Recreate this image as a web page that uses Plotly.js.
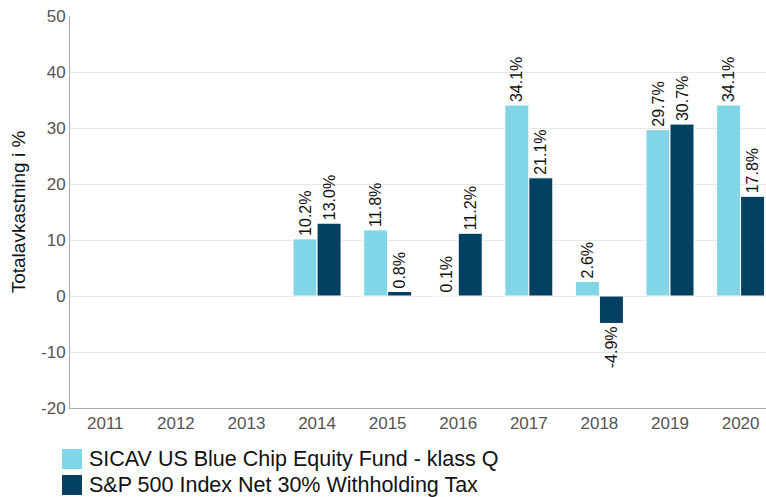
<!DOCTYPE html>
<html>
<head>
<meta charset="utf-8">
<script src="https://cdn.plot.ly/plotly-3.0.1.min.js"></script>
<style>html,body{margin:0;padding:0;overflow:hidden;background:#fff}</style>
</head>
<body>
<div id="chart" style="width:766px;height:497px"></div>
<script>
const years = ["2011","2012","2013","2014","2015","2016","2017","2018","2019","2020"];
const fundName = "SICAV US Blue Chip Equity Fund - klass Q";
const indexName = "S&P 500 Index Net 30% Withholding Tax";
const fundValues = [null,null,null,10.2,11.8,0.1,34.1,2.6,29.7,34.1];
const indexValues = [null,null,null,13.0,0.8,11.2,21.1,-4.9,30.7,17.8];
const yTicks = [-20,-10,0,10,20,30,40,50];
const fundColor = "#80d5e7";
const indexColor = "#004060";

const fmt = v => v === null ? "" : v.toFixed(1) + "%";
const font = "Liberation Sans, Arial, sans-serif";

const traces = [
  {type:"bar", name:fundName, x:years, y:fundValues, text:fundValues.map(fmt),
   textposition:"outside", textangle:-90, cliponaxis:false, constraintext:"none",
   textfont:{size:16, color:"#111", family:font},
   marker:{color:fundColor, line:{color:"#ffffff", width:1}}},
  {type:"bar", name:indexName, x:years, y:indexValues, text:indexValues.map(fmt),
   textposition:"outside", textangle:-90, cliponaxis:false, constraintext:"none",
   textfont:{size:16, color:"#111", family:font},
   marker:{color:indexColor, line:{color:"#ffffff", width:1}}}
];

// manual legend (larger swatches than Plotly's built-in legend)
const legendItems = [{name:fundName, color:fundColor}, {name:indexName, color:indexColor}];
const shapes = legendItems.map((it, i) => ({
  type:"rect", xref:"paper", yref:"paper", xsizemode:"pixel", ysizemode:"pixel",
  xanchor:0, yanchor:0, x0:-8, x1:12, y0:-41 - 26*i, y1:-61 - 26*i,
  fillcolor:it.color, line:{width:0}
}));
const annotations = legendItems.map((it, i) => ({
  text:it.name, xref:"paper", yref:"paper", x:0, y:0, xanchor:"left", yanchor:"middle",
  xshift:17, yshift:-51 - 25.5*i, showarrow:false,
  font:{size:21.5, color:"#111", family:font}
}));

const layout = {
  width:766, height:497,
  margin:{l:70, r:0, t:16, b:89},
  paper_bgcolor:"#fff", plot_bgcolor:"#fff",
  font:{family:font, color:"#111"},
  barmode:"group", bargap:0.32, bargroupgap:0,
  showlegend:false,
  shapes:shapes, annotations:annotations,
  xaxis:{type:"category", range:[-0.5, 9.36], showgrid:false, zeroline:false,
         showline:true, linecolor:"#aaa", linewidth:1, ticks:"",
         tickfont:{size:17, color:"#555", family:font}},
  yaxis:{range:[-20,50], tickvals:yTicks, ticktext:yTicks.map(String),
         showgrid:true, gridcolor:"#e8e8e8", zeroline:false,
         showline:true, linecolor:"#aaa", linewidth:1, ticks:"",
         tickfont:{size:17, color:"#555", family:font},
         title:{text:"Totalavkastning i %", font:{size:19, color:"#111", family:font}, standoff:10}}
};

Plotly.newPlot("chart", traces, layout, {displayModeBar:false, staticPlot:true});
</script>
</body>
</html>
